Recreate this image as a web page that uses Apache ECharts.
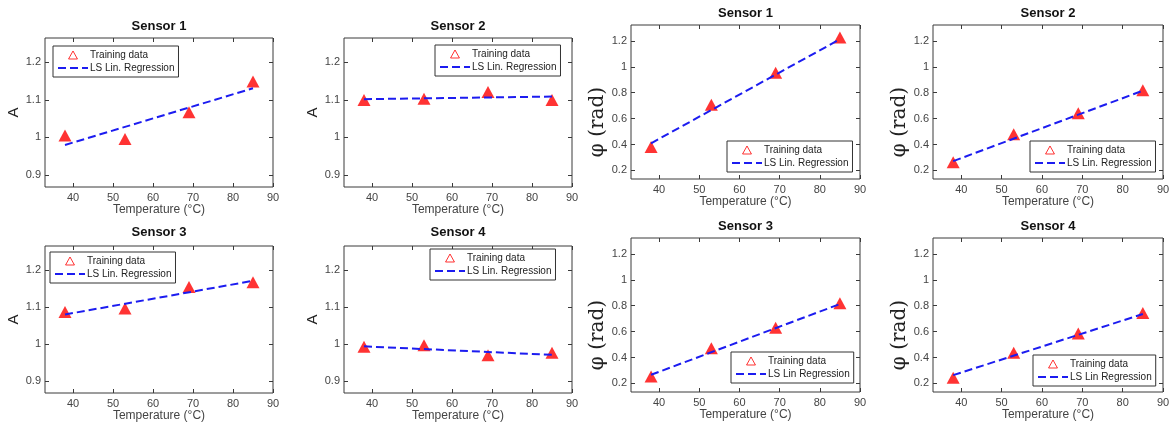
<!DOCTYPE html>
<html><head><meta charset="utf-8">
<script src="https://cdn.jsdelivr.net/npm/echarts@6/dist/echarts.min.js"></script>
<style>html,body{margin:0;padding:0;background:#fff}#c{width:1175px;height:426px}</style>
</head><body><div id="c"></div>
<script>
// ---------- data ----------
const temps = [38, 53, 69, 85];
const fitTemps = [38, 85];

const ampSensor1 = [1.005, 0.996, 1.067, 1.149];
const ampSensor2 = [1.100, 1.103, 1.121, 1.100];
const ampSensor3 = [1.087, 1.096, 1.154, 1.167];
const ampSensor4 = [0.993, 0.997, 0.970, 0.977];
const ampFit1 = [0.980, 1.131];
const ampFit2 = [1.102, 1.109];
const ampFit3 = [1.080, 1.171];
const ampFit4 = [0.994, 0.971];

const phiSensor1 = [0.382, 0.708, 0.954, 1.226];
const phiSensor2 = [0.264, 0.480, 0.641, 0.820];
const phiSensor3 = [0.254, 0.472, 0.631, 0.820];
const phiSensor4 = [0.244, 0.438, 0.585, 0.744];
const phiFit1 = [0.410, 1.213];
const phiFit2 = [0.272, 0.816];
const phiFit3 = [0.267, 0.813];
const phiFit4 = [0.264, 0.736];

const xTicks = [40, 50, 60, 70, 80, 90];
const ampTicks = [0.9, 1.0, 1.1, 1.2];
const phiTicks = [0.2, 0.4, 0.6, 0.8, 1.0, 1.2];

const panelTitles = ['Sensor 1', 'Sensor 2', 'Sensor 3', 'Sensor 4', 'Sensor 1', 'Sensor 2', 'Sensor 3', 'Sensor 4'];
const trainLabel = 'Training data';
const fitLabels = ['LS Lin. Regression', 'LS Lin. Regression', 'LS Lin. Regression', 'LS Lin. Regression',
                   'LS Lin. Regression', 'LS Lin. Regression', 'LS Lin Regression', 'LS Lin Regression'];
const xLabel = 'Temperature (°C)';
const ampLabel = 'A';
const phiLabel = 'φ (rad)';

// ---------- layout ----------
const panelData = [ampSensor1, ampSensor2, ampSensor3, ampSensor4, phiSensor1, phiSensor2, phiSensor3, phiSensor4];
const panelFits = [ampFit1, ampFit2, ampFit3, ampFit4, phiFit1, phiFit2, phiFit3, phiFit4];
const gridBoxes = [
  [45, 38, 228, 149], [344, 38, 228, 149], [45, 246, 228, 147], [344, 246, 228, 147],
  [631, 25, 229, 154], [933, 25, 230, 154], [631, 238, 229, 154], [933, 238, 230, 154]
];
const titleTops = [20, 20, 226, 226, 7, 7, 220, 220];
const legendPos = [[53, 46], [435, 45], [50, 252], [430, 249], [727, 141], [1030, 141], [731, 352], [1033, 355]];

const SANS = '"Liberation Sans", Arial, Helvetica, sans-serif';
const AXC = '#3a3a3a';
const TRI_ICON = 'path://M5,0 L10,9 L0,9 Z';

const grid = [], xAxis = [], yAxis = [], series = [], title = [], legend = [];
const xTop = [], yRight = [];
for (let i = 0; i < 8; i++) {
  const amp = i < 4;
  const [l, t, w, h] = gridBoxes[i];
  grid.push({left: l, top: t, width: w, height: h, show: true, borderColor: AXC, borderWidth: 1, backgroundColor: '#fff'});
  const ymin = amp ? 0.868 : 0.134, ymax = amp ? 1.265 : 1.323;
  const yt = amp ? ampTicks : phiTicks;
  xAxis.push({
    type: 'value', gridIndex: i, min: 33, max: 90, position: 'bottom',
    axisLine: {show: false}, splitLine: {show: false},
    axisTick: {inside: true, length: 4, customValues: xTicks, lineStyle: {color: AXC}},
    axisLabel: {customValues: xTicks, color: '#444', fontSize: 11, margin: 5, fontFamily: SANS},
    name: xLabel, nameLocation: 'middle', nameGap: 17,
    nameTextStyle: {fontSize: 12, color: '#444', fontFamily: SANS}
  });
  xTop.push({
    type: 'value', gridIndex: i, min: 33, max: 90, position: 'top',
    axisLine: {show: false}, splitLine: {show: false},
    axisTick: {inside: true, length: 4, customValues: xTicks, lineStyle: {color: AXC}},
    axisLabel: {show: false}
  });
  yAxis.push({
    type: 'value', gridIndex: i, min: ymin, max: ymax, position: 'left',
    axisLine: {show: false}, splitLine: {show: false},
    axisTick: {inside: true, length: 4, customValues: yt, lineStyle: {color: AXC}},
    axisLabel: {customValues: yt, color: '#444', fontSize: 11, margin: 4, fontFamily: SANS},
    name: amp ? ampLabel : phiLabel, nameLocation: 'middle',
    nameGap: amp ? 22 : 15,
    nameTextStyle: amp
      ? {fontSize: 15, color: '#222', fontFamily: SANS}
      : {fontSize: 20, color: '#222', fontFamily: '"DejaVu Serif", "Liberation Serif", serif', padding: [0, 40, 0, 0]}
  });
  yRight.push({
    type: 'value', gridIndex: i, min: ymin, max: ymax, position: 'right',
    axisLine: {show: false}, splitLine: {show: false},
    axisTick: {inside: true, length: 4, customValues: yt, lineStyle: {color: AXC}},
    axisLabel: {show: false}
  });
  title.push({
    text: panelTitles[i], left: l + w / 2, top: titleTops[i], textAlign: 'center', padding: 0,
    textStyle: {fontSize: 13, fontWeight: 'bold', color: '#111', fontFamily: SANS}
  });
  legend.push({
    orient: 'vertical', left: legendPos[i][0], top: legendPos[i][1],
    itemWidth: 30, itemHeight: 8, itemGap: 3, padding: [4, 4, 4, 4],
    symbolKeepAspect: true,
    borderColor: '#333', borderWidth: 1, backgroundColor: '#fff',
    textStyle: {fontSize: 10, color: '#222', fontFamily: SANS, padding: [0, 0, 0, -3]},
    data: [
      {name: trainLabel, icon: TRI_ICON, itemStyle: {color: '#fff', borderColor: '#ff0000', borderWidth: 1}},
      {name: fitLabels[i], itemStyle: {opacity: 0}}
    ]
  });
  series.push({
    name: trainLabel, type: 'scatter', xAxisIndex: i, yAxisIndex: i,
    symbol: 'triangle', symbolSize: [13, 12], itemStyle: {color: '#ff0000'},
    data: temps.map((x, k) => [x, panelData[i][k]])
  });
  series.push({
    name: fitLabels[i], type: 'line', xAxisIndex: i, yAxisIndex: i,
    symbol: 'none', lineStyle: {color: '#1c1cf0', width: 2, type: [8, 4]}, itemStyle: {color: '#1c1cf0'},
    data: fitTemps.map((x, k) => [x, panelFits[i][k]])
  });
}

const chart = echarts.init(document.getElementById('c'));
chart.setOption({
  animation: false,
  backgroundColor: '#fff',
  title, legend, grid,
  xAxis: xAxis.concat(xTop),
  yAxis: yAxis.concat(yRight),
  series
});
</script>
</body></html>
